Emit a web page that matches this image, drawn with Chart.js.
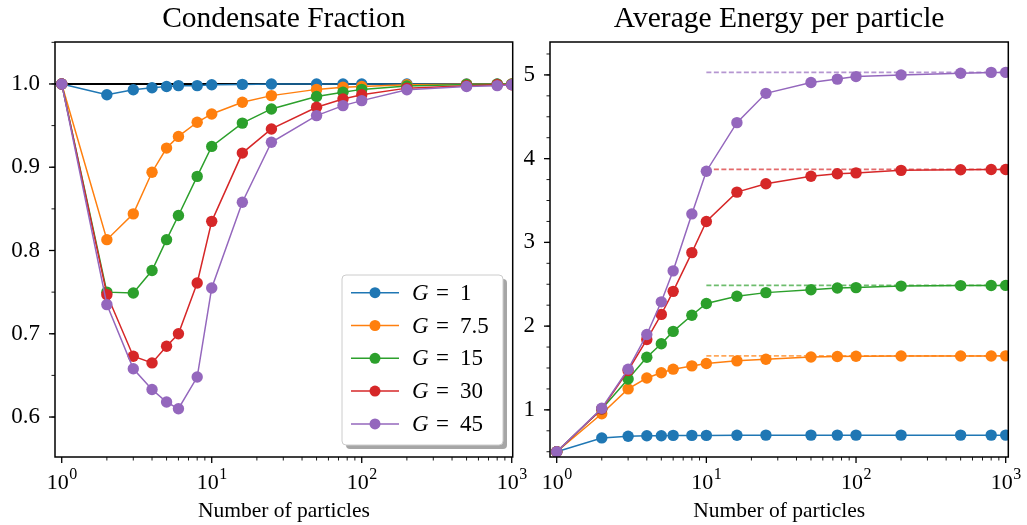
<!DOCTYPE html>
<html>
<head>
<meta charset="utf-8">
<script src="https://cdn.jsdelivr.net/npm/chart.js@4.4.1/dist/chart.umd.min.js"></script>
<style>
  body { margin: 0; background: #fff; }
  #wrap { position: relative; width: 1027px; height: 525px; }
  canvas { position: absolute; top: 0; }
  #left { left: 0; }
  #right { left: 510px; }
</style>
</head>
<body>
<div id="wrap">
  <canvas id="left" width="540" height="525"></canvas>
  <canvas id="right" width="517" height="525"></canvas>
</div>
<script>
// particle counts shared by every curve
const particles = [1, 2, 3, 4, 5, 6, 8, 10, 16, 25, 50, 75, 100, 200, 500, 800, 1000];
const gValues = ['1', '7.5', '15', '30', '45'];

// condensate fraction per coupling G
const condG1   = [1.0, 0.987, 0.993, 0.9955, 0.997, 0.998, 0.998, 0.999, 0.9995, 1.0, 1.0, 1.0, 1.0, 1.0, 1.0, 1.0, 1.0];
const condG7p5 = [1.0, 0.813, 0.844, 0.894, 0.923, 0.937, 0.954, 0.964, 0.978, 0.986, 0.9935, 0.996, 0.997, 0.999, 0.9997, 0.9998, 0.9999];
const condG15  = [1.0, 0.750, 0.749, 0.776, 0.813, 0.842, 0.889, 0.925, 0.953, 0.970, 0.985, 0.990, 0.9935, 0.9975, 0.9993, 0.9996, 0.9997];
const condG30  = [1.0, 0.747, 0.673, 0.665, 0.685, 0.700, 0.761, 0.835, 0.917, 0.946, 0.972, 0.982, 0.987, 0.995, 0.998, 0.999, 0.999];
const condG45  = [1.0, 0.735, 0.658, 0.633, 0.618, 0.610, 0.648, 0.755, 0.858, 0.930, 0.962, 0.974, 0.980, 0.993, 0.997, 0.998, 0.999];

// average energy per particle per coupling G
const energyG1   = [0.50, 0.665, 0.685, 0.690, 0.690, 0.695, 0.695, 0.695, 0.697, 0.698, 0.698, 0.698, 0.698, 0.698, 0.698, 0.698, 0.698];
const energyG7p5 = [0.50, 0.953, 1.250, 1.380, 1.443, 1.486, 1.525, 1.554, 1.585, 1.605, 1.632, 1.637, 1.640, 1.643, 1.644, 1.644, 1.645];
const energyG15  = [0.50, 1.010, 1.368, 1.629, 1.790, 1.937, 2.130, 2.270, 2.356, 2.400, 2.435, 2.455, 2.460, 2.478, 2.484, 2.485, 2.486];
const energyG30  = [0.50, 1.010, 1.470, 1.840, 2.140, 2.415, 2.878, 3.250, 3.600, 3.700, 3.790, 3.820, 3.830, 3.860, 3.868, 3.870, 3.870];
const energyG45  = [0.50, 1.020, 1.486, 1.900, 2.290, 2.660, 3.340, 3.850, 4.430, 4.780, 4.910, 4.950, 4.980, 5.000, 5.020, 5.030, 5.030];

// large-N limits (dashed), drawn from N=10 to N=1000
const energyLimit = [null, 1.645, 2.487, 3.872, 5.03];
const limitRange = [10, 1000];

// axis ticks: x labels are 10 with a raised exponent
const xTickValues = [1, 10, 100, 1000];
const xTickExponents = ['0', '1', '2', '3'];
const condTicks = [0.6, 0.7, 0.8, 0.9, 1.0];
const energyTicks = [1, 2, 3, 4, 5];

const palette = ['#1f77b4', '#ff7f0e', '#2ca02c', '#d62728', '#9467bd'];
const serif = "'Liberation Serif', 'DejaVu Serif', serif";

function series(values) {
  return particles.map((n, i) => ({ x: n, y: values[i] }));
}

function curve(values, k) {
  return {
    label: 'G = ' + gValues[k],
    data: series(values),
    borderColor: palette[k],
    backgroundColor: palette[k],
    pointBackgroundColor: palette[k],
    pointBorderWidth: 0,
    pointRadius: 5.7,
    borderWidth: 1.5,
    order: 10 - k   // later curves end up on top
  };
}

function limitLine(k) {
  return {
    label: 'limit ' + gValues[k],
    data: limitRange.map(n => ({ x: n, y: energyLimit[k] })),
    borderColor: palette[k] + 'b0',
    borderWidth: 1.6,
    borderDash: [5, 2.5],
    pointRadius: 0,
    order: 20
  };
}

function xAxis(min, max) {
  return {
    type: 'logarithmic', min: min, max: max,
    grid: { display: false, drawTicks: false },
    border: { display: false },
    afterBuildTicks: s => { s.ticks = xTickValues.map(v => ({ value: v })); },
    afterFit: s => { s.height = 68; },
    ticks: { display: false },
    title: {
      display: true, text: 'Number of particles', color: '#000',
      font: { family: serif, size: 21.5 }, padding: { top: 0, bottom: 1 }
    }
  };
}

function yAxis(min, max, values, digits, width) {
  return {
    type: 'linear', min: min, max: max,
    grid: { display: false, drawTicks: false },
    border: { display: false },
    afterBuildTicks: s => { s.ticks = values.map(v => ({ value: v })); },
    afterFit: s => { s.width = width; },
    ticks: {
      padding: 15, color: '#000',
      font: { family: serif, size: 23 },
      callback: v => v.toFixed(digits)
    }
  };
}

// frame around the plot area, outward major/minor ticks and the 10^n labels
const axisDecor = {
  id: 'axisDecor',
  afterDraw(chart, args, opts) {
    const ctx = chart.ctx, a = chart.chartArea;
    const xs = chart.scales.x, ys = chart.scales.y;
    ctx.save();
    ctx.strokeStyle = '#000';
    ctx.lineCap = 'butt';
    const hTick = (v, len, w) => {
      const y = ys.getPixelForValue(v);
      ctx.lineWidth = w;
      ctx.beginPath(); ctx.moveTo(a.left - len, y); ctx.lineTo(a.left, y); ctx.stroke();
    };
    const vTick = (v, len, w) => {
      const x = xs.getPixelForValue(v);
      ctx.lineWidth = w;
      ctx.beginPath(); ctx.moveTo(x, a.bottom); ctx.lineTo(x, a.bottom + len); ctx.stroke();
    };
    for (let d = 0; d < 4; d++) {
      for (let m = 2; m < 10; m++) {
        const v = m * Math.pow(10, d);
        if (v >= xs.min && v <= xs.max) vTick(v, 3.5, 0.9);
      }
    }
    xTickValues.forEach(v => vTick(v, 6, 1.3));
    const step = opts.minorStep;
    for (let v = Math.ceil(ys.min / step) * step; v <= ys.max + 1e-9; v += step) {
      hTick(v, 3.5, 0.9);
    }
    ys.ticks.forEach(t => hTick(t.value, 6, 1.3));
    ctx.lineWidth = 1.5;
    ctx.strokeRect(a.left, a.top, a.right - a.left, a.bottom - a.top);

    // 10^n tick labels
    ctx.fillStyle = '#000';
    ctx.textBaseline = 'alphabetic';
    ctx.textAlign = 'left';
    xTickValues.forEach((v, i) => {
      const x = xs.getPixelForValue(v);
      ctx.font = '22px ' + serif;
      const wb = ctx.measureText('10').width;
      ctx.font = '16px ' + serif;
      const we = ctx.measureText(xTickExponents[i]).width;
      const x0 = x - (wb + we) / 2;
      ctx.font = '22px ' + serif;
      ctx.fillText('10', x0, a.bottom + 32);
      ctx.font = '16px ' + serif;
      ctx.fillText(xTickExponents[i], x0 + wb + 0.5, a.bottom + 22);
    });
    ctx.restore();
  }
};

// horizontal reference at full condensation
const unityLine = {
  id: 'unityLine',
  beforeDatasetsDraw(chart) {
    const ctx = chart.ctx, a = chart.chartArea;
    const y = chart.scales.y.getPixelForValue(1.0);
    ctx.save();
    ctx.strokeStyle = '#000';
    ctx.lineWidth = 2;
    ctx.beginPath(); ctx.moveTo(a.left, y); ctx.lineTo(a.right, y); ctx.stroke();
    ctx.restore();
  }
};

// boxed legend with drop shadow in the lower right corner
const cornerLegend = {
  id: 'cornerLegend',
  afterDraw(chart) {
    const ctx = chart.ctx, a = chart.chartArea;
    const w = 161, h = 170;
    const left = a.right - 9.7 - w, top = a.bottom - 12 - h;
    ctx.save();
    ctx.fillStyle = 'rgba(0,0,0,0.35)';
    ctx.beginPath(); ctx.roundRect(left + 4, top + 4, w, h, 4); ctx.fill();
    ctx.fillStyle = '#fff';
    ctx.strokeStyle = '#cccccc';
    ctx.lineWidth = 1;
    ctx.beginPath(); ctx.roundRect(left, top, w, h, 4); ctx.fill(); ctx.stroke();
    const curves = chart.data.datasets.filter(ds => ds.order < 20);
    curves.forEach((ds, i) => {
      const y = top + 17.7 + i * 32.8;
      ctx.strokeStyle = ds.borderColor;
      ctx.lineWidth = 1.5;
      ctx.beginPath(); ctx.moveTo(left + 9, y); ctx.lineTo(left + 57, y); ctx.stroke();
      ctx.fillStyle = ds.borderColor;
      ctx.beginPath(); ctx.arc(left + 33, y, 5.5, 0, Math.PI * 2); ctx.fill();
      ctx.fillStyle = '#000';
      ctx.textBaseline = 'middle';
      ctx.textAlign = 'left';
      ctx.font = 'italic 23px ' + serif;
      ctx.fillText('G', left + 70, y + 1);
      ctx.font = '23px ' + serif;
      ctx.fillText('=', left + 94, y + 1);
      ctx.fillText(gValues[i], left + 118, y + 1);
    });
    ctx.restore();
  }
};

function titleOpts(text) {
  return {
    display: true, text: text, color: '#000', fullSize: false,
    font: { family: serif, size: 29.5, weight: 'normal' },
    padding: { top: 2, bottom: 4.6 }
  };
}

Chart.defaults.animation = false;

new Chart(document.getElementById('left'), {
  type: 'line',
  data: {
    datasets: [condG1, condG7p5, condG15, condG30, condG45].map(curve)
  },
  options: {
    responsive: false,
    devicePixelRatio: 1,
    layout: { padding: { left: 0, right: 27.3, top: 0, bottom: 0 } },
    plugins: {
      legend: { display: false },
      tooltip: { enabled: false },
      title: titleOpts('Condensate Fraction'),
      axisDecor: { minorStep: 0.05 }
    },
    scales: {
      x: xAxis(0.902, 1015),
      y: yAxis(0.552, 1.0504, condTicks, 1, 55)
    }
  },
  plugins: [unityLine, axisDecor, cornerLegend]
});

new Chart(document.getElementById('right'), {
  type: 'line',
  data: {
    datasets: [energyG1, energyG7p5, energyG15, energyG30, energyG45].map(curve)
      .concat([1, 2, 3, 4].map(limitLine))
  },
  options: {
    responsive: false,
    devicePixelRatio: 1,
    layout: { padding: { left: 0, right: 18.7, top: 0, bottom: 0 } },
    plugins: {
      legend: { display: false },
      tooltip: { enabled: false },
      title: titleOpts('Average Energy per particle'),
      axisDecor: { minorStep: 0.25 }
    },
    scales: {
      x: xAxis(0.902, 1041),
      y: yAxis(0.437, 5.393, energyTicks, 0, 40)
    }
  },
  plugins: [axisDecor]
});
</script>
</body>
</html>
